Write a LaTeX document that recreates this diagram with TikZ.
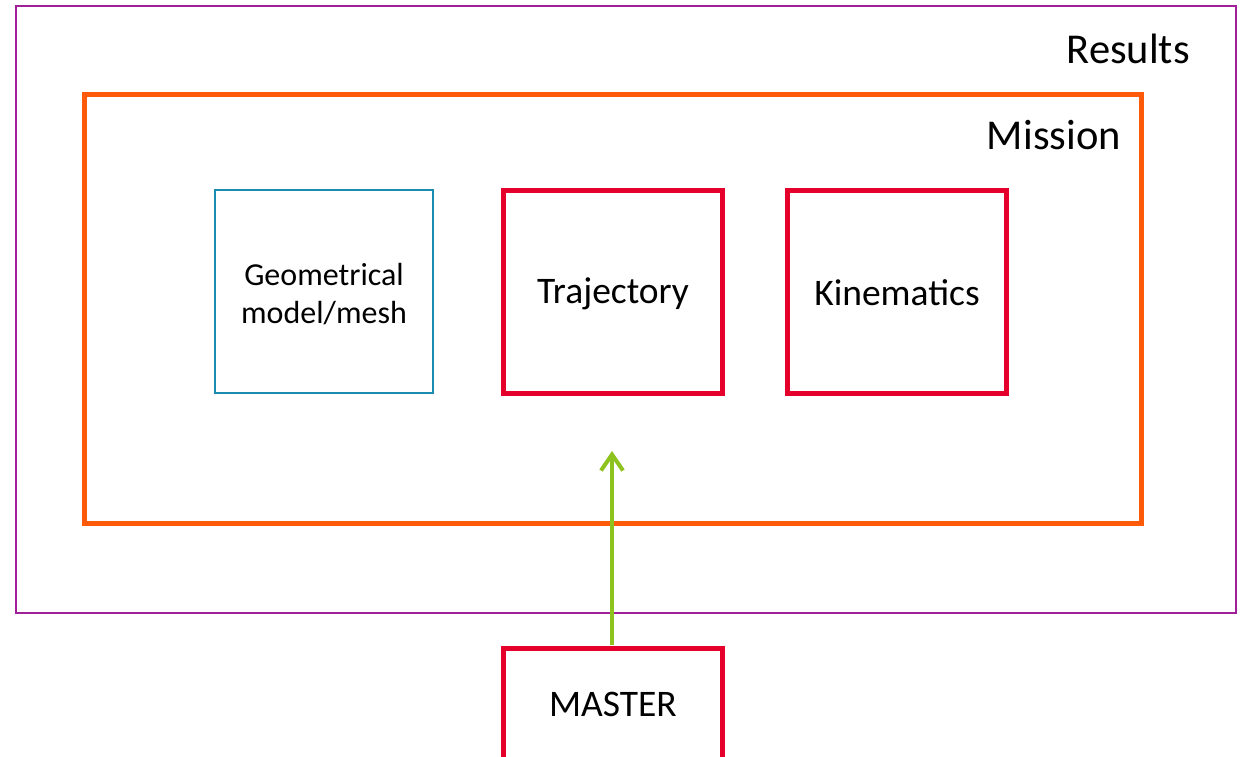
\documentclass[tikz,border=0pt]{standalone}
\usepackage{fontspec}
\setmainfont{Carlito}
\usetikzlibrary{arrows.meta}
\definecolor{respurple}{HTML}{A0209A}
\definecolor{misorange}{HTML}{FF5A0A}
\definecolor{geoblue}{HTML}{1A8CB0}
\definecolor{boxred}{HTML}{E4002B}
\definecolor{arrgreen}{HTML}{8DC21F}
\tikzset{
  resbox/.style={draw=respurple, line width=2pt},
  misbox/.style={draw=misorange, line width=5pt},
  geobox/.style={draw=geoblue, line width=2pt},
  redbox/.style={draw=boxred, line width=5pt},
  bigtxt/.style={font=\fontsize{42.5}{50}\selectfont, inner sep=0pt},
  midtxt/.style={font=\fontsize{37.5}{44}\selectfont, inner sep=0pt},
  smalltxt/.style={font=\fontsize{32}{38}\selectfont, inner sep=0pt, align=center},
  flow/.style={draw=arrgreen, line width=4.5pt, -{Straight Barb[length=16pt,width=22pt,line width=4pt]}}
}
\begin{document}
\begin{tikzpicture}[x=1pt,y=-1pt]
\useasboundingbox (0,0) rectangle (1245,756);
% Results
\draw[resbox] (16,6) rectangle (1236,613);
\node[bigtxt, anchor=base east] (restxt) at (1190,63) {Results};
% Mission
\draw[misbox] (84,94) rectangle (1141,523);
\node[bigtxt, anchor=base east] (mistxt) at (1121,149) {Mission};
% inner boxes
\draw[geobox] (215,190) rectangle (433,393);
\node[smalltxt] (geo) at (324,294) {Geometrical\\model/mesh};
\draw[redbox] (503,190) rectangle (722,393);
\node[midtxt] (traj) at (613,294) {Trajectory};
\draw[redbox] (787,190) rectangle (1006,393);
\node[midtxt] (kin) at (897,293) {Kinematics};
% MASTER
\draw[redbox] (503,648) rectangle (722,770);
\node[midtxt] (master) at (613,704) {MASTER};
\coordinate (mastertop) at (612,645);
\coordinate (arrowend) at (612,451);
\draw[flow] (mastertop) -- (arrowend);
\end{tikzpicture}
\end{document}
